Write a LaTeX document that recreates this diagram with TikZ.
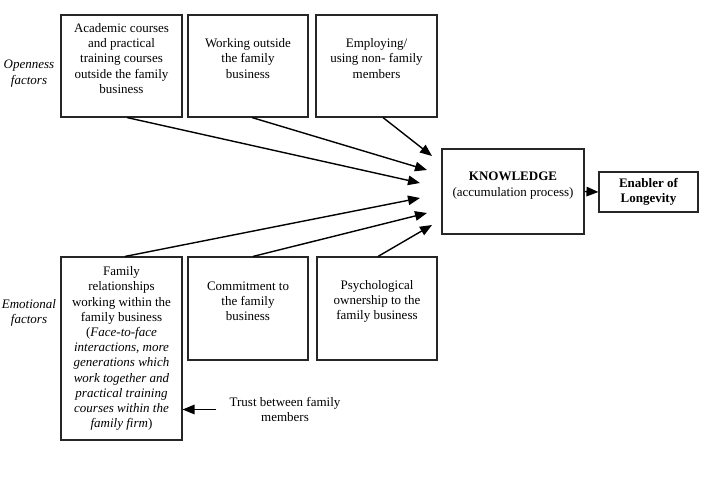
\documentclass[tikz,border=0pt]{standalone}
\usepackage{fontspec}
\setmainfont{Liberation Serif}
\usetikzlibrary{arrows.meta}
\begin{document}
\begin{tikzpicture}[x=1pt,y=-1pt,
  box/.style={draw=black!85,line width=1.1pt,rectangle,inner sep=0pt},
  txt/.style={align=center,inner sep=0pt,font=\fontsize{13}{15.2}\selectfont},
  arr/.style={-{Triangle[length=12pt,width=9.5pt]},line width=1.4pt}]
\useasboundingbox (0,0) rectangle (703,484);
% top boxes
\node[box,minimum width=121,minimum height=102] (a1) at (121.5,66) {};
\node[txt] (a1t) at (121.5,58.5) {Academic courses\\and practical\\training courses\\outside the family\\business};
\node[box,minimum width=120,minimum height=102] (a2) at (248,66) {};
\node[txt] (a2t) at (248,58.5) {Working outside\\the family\\business};
\node[box,minimum width=121,minimum height=102] (a3) at (376.5,66) {};
\node[txt] (a3t) at (376.5,58.5) {Employing/\\using non- family\\members};
% bottom boxes
\node[box,minimum width=121,minimum height=183] (b1) at (121.5,348.5) {};
\node[txt] (b1t) at (121.5,348.5) {Family\\relationships\\working within the\\family business\\(\textit{Face-to-face}\\\textit{interactions, more}\\\textit{generations which}\\\textit{work together and}\\\textit{practical training}\\\textit{courses within the}\\\textit{family firm})};
\node[box,minimum width=120,minimum height=103] (b2) at (248,308.5) {};
\node[txt] (b2t) at (248,301.5) {Commitment to\\the family\\business};
\node[box,minimum width=120,minimum height=103] (b3) at (377,308.5) {};
\node[txt] (b3t) at (377,301.5) {Psychological\\ownership to the\\family business};
% knowledge and enabler
\node[box,minimum width=142,minimum height=85] (k) at (513,191.5) {};
\node[txt] (kt) at (513,185.5) {\textbf{KNOWLEDGE}\\(accumulation process)};
\node[box,minimum width=99,minimum height=40,txt,draw=black!85,line width=1.1pt] (e) at (648.5,192) {\textbf{Enabler of}\\\textbf{Longevity}};
% side labels
\node[txt] (open) at (29,73.5) {\textit{Openness}\\\textit{factors}};
\node[txt] (emo) at (29,313) {\textit{Emotional}\\\textit{factors}};
\node[txt] (trust) at (285,409.5) {Trust between family\\members};
% arrow tip coordinates
\coordinate (t1) at (420,183);
\coordinate (t2) at (427,170);
\coordinate (t3) at (432,156);
\coordinate (t4) at (420,198);
\coordinate (t5) at (427,213);
\coordinate (t6) at (432,225);
\draw[arr] ([xshift=5.5]a1.south) -- (t1);
\draw[arr] ([xshift=4]a2.south) -- (t2);
\draw[arr] ([xshift=6.5]a3.south) -- (t3);
\draw[arr] ([xshift=3.5]b1.north) -- (t4);
\draw[arr] ([xshift=5]b2.north) -- (t5);
\draw[arr] ([xshift=1]b3.north) -- (t6);
\draw[arr] (k.east) -- (e.west);
\draw[arr] ([xshift=-13]trust.west) -- (trust.west -| b1.east);
\end{tikzpicture}
\end{document}
